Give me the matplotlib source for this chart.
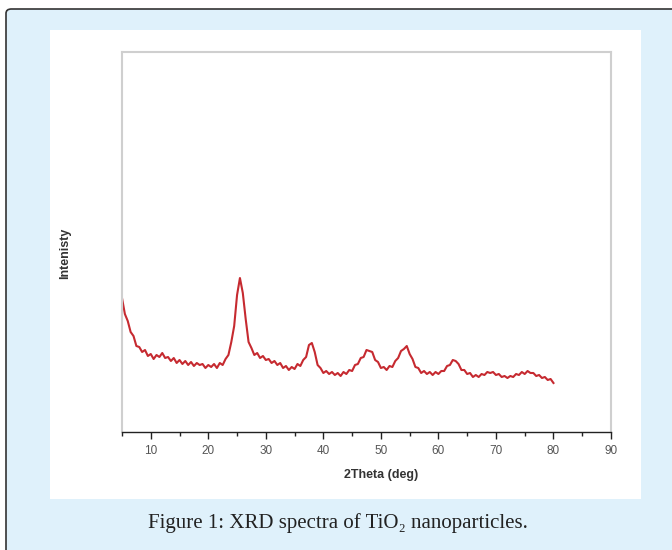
import numpy as np
import matplotlib
matplotlib.use("Agg")
import matplotlib.pyplot as plt
from matplotlib.patches import Rectangle, FancyBboxPatch

# XRD pattern (2theta in deg, intensity in arbitrary units)
two_theta = np.arange(5.0, 80.01, 0.5)
intensity = [
    134, 118, 111, 100, 96, 86, 85, 80, 82, 76,      # 5.0 - 9.5
    78, 73, 77, 75, 79, 74, 75, 71, 74, 69,          # 10.0 - 14.5
    72, 68, 71, 67, 70, 66, 69, 67, 68, 64,          # 15.0 - 19.5
    67, 65, 68, 64, 69, 67, 73, 77, 90, 106,         # 20.0 - 24.5
    137, 154, 139, 113, 90, 84, 77, 79, 74, 76,      # 25.0 - 29.5
    72, 73, 69, 71, 67, 69, 64, 66, 62, 65,          # 30.0 - 34.5
    63, 68, 66, 72, 75, 87, 89, 80, 67, 64,          # 35.0 - 39.5
    59, 61, 58, 60, 57, 59, 56, 60, 58, 62,          # 40.0 - 44.5
    61, 67, 68, 74, 75, 82, 81, 80, 72, 70,          # 45.0 - 49.5
    64, 65, 62, 66, 65, 71, 74, 81, 83, 86,          # 50.0 - 54.5
    78, 73, 65, 64, 59, 61, 58, 60, 57, 60,          # 55.0 - 59.5
    58, 61, 61, 66, 67, 72, 71, 68, 62, 62,          # 60.0 - 64.5
    58, 59, 55, 57, 55, 58, 57, 60, 59, 60,          # 65.0 - 69.5
    57, 58, 55, 56, 54, 56, 55, 58, 57, 60,          # 70.0 - 74.5
    58, 61, 59, 59, 56, 57, 54, 55, 52, 53,          # 75.0 - 79.5
    49,                                              # 80.0
]

x_ticks = [10, 20, 30, 40, 50, 60, 70, 80, 90]
caption = "Figure 1: XRD spectra of TiO\u2082 nanoparticles."

fig = plt.figure(figsize=(6.72, 5.5), dpi=100)
fig.patch.set_facecolor("white")

W, H = 672.0, 550.0

# light blue card with dark border (top-left corner rounded)
card = FancyBboxPatch((6 / W, -0.05), 1.2, 1 - 9 / H + 0.05,
                      boxstyle="round,pad=0,rounding_size=0.008",
                      transform=fig.transFigure, facecolor="#dff1fb",
                      edgecolor="#333333", linewidth=1.2, zorder=0)
fig.patches.append(card)

# white panel holding the plot
panel = Rectangle((50 / W, 1 - 499 / H), 591 / W, 469 / H,
                  transform=fig.transFigure, facecolor="white",
                  edgecolor="none", zorder=0.5)
fig.patches.append(panel)

ax = fig.add_axes([122 / W, 1 - 432 / H, 489 / W, 380 / H])
ax.set_zorder(2)
ax.set_facecolor("white")
ax.plot(two_theta, intensity, color="#c62a30", linewidth=1.5)

ax.set_xlim(5, 90)
ax.set_ylim(0, 380)
ax.set_xticks(x_ticks)
ax.set_xticks(np.arange(5, 91, 5), minor=True)
ax.set_yticks([])

for side in ["top", "right", "left"]:
    ax.spines[side].set_color("#cfcfcf")
    ax.spines[side].set_linewidth(1.5)
ax.spines["bottom"].set_color("#222222")
ax.spines["bottom"].set_linewidth(1.0)

ax.tick_params(axis="x", which="major", direction="out", length=5, width=1,
               color="#222222", labelsize=8.5, labelcolor="#555555", pad=4)
ax.tick_params(axis="x", which="minor", direction="out", length=3, width=1,
               color="#222222")

ax.set_xlabel("2Theta (deg)", fontsize=9, fontweight="bold",
              color="#333333", family="Liberation Sans")
ax.set_ylabel("Intenisty", fontsize=9, fontweight="bold",
              color="#333333", family="Liberation Sans")
ax.xaxis.set_label_coords(0.53, -0.097)
ax.yaxis.set_label_coords(-0.104, 0.47)
for lbl in ax.get_xticklabels():
    lbl.set_family("Liberation Sans")

fig.text(338 / W, 1 - 523 / H, caption, ha="center", va="center",
         fontsize=15, color="#222222",
         family=["Liberation Serif", "DejaVu Serif"])

fig.savefig("out.png", dpi=100, facecolor=fig.get_facecolor())
